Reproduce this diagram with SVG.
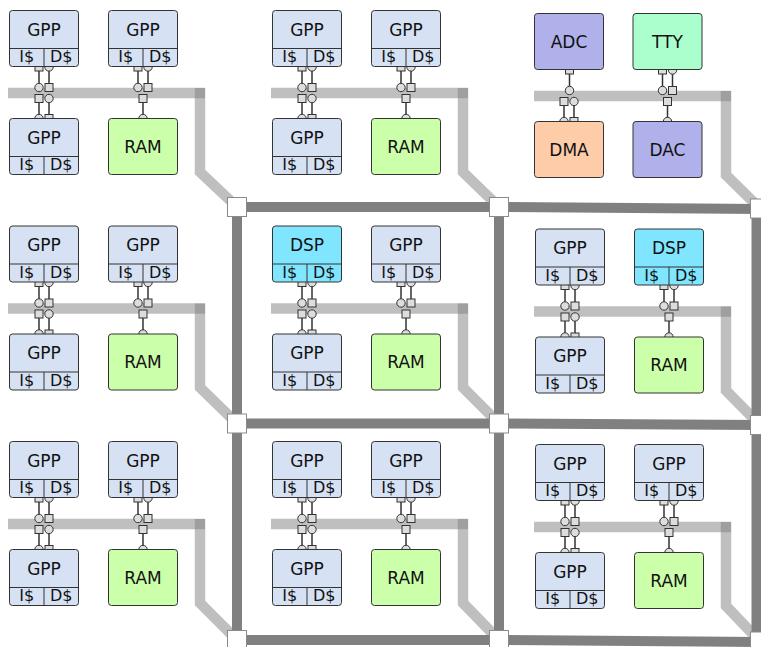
<svg xmlns="http://www.w3.org/2000/svg" xmlns:xlink="http://www.w3.org/1999/xlink" width="761" height="647" viewBox="0 0 761 647">
<style>
.box{stroke:#333;stroke-width:1}
.gpp{fill:#d6e1f3}
.dsp{fill:#80e5ff}
.ram{fill:#ccffaa}
.adc{fill:#b0b0ea}
.tty{fill:#aaffcc}
.dma{fill:#ffccaa}
.dv{stroke:#333;stroke-width:1}
text{font-family:"DejaVu Sans",sans-serif;font-size:17px;text-anchor:middle;fill:#111}
text.c{font-size:16px}
.bus{stroke:#808080;stroke-opacity:0.5;stroke-width:10.5;fill:none}
.mesh{stroke:#808080;stroke-width:10;fill:none}
.router{fill:#fff;stroke:#8a8a8a;stroke-width:1}
.w{stroke:#333;stroke-width:1.5}
.p{fill:#ddd;stroke:#333;stroke-width:1}
</style>
<defs>
<g id="portsStd">
<line class="w" x1="39" y1="67" x2="39" y2="87.5"/>
<line class="w" x1="49" y1="67" x2="49" y2="87.5"/>
<line class="w" x1="39" y1="98.5" x2="39" y2="118.5"/>
<line class="w" x1="49" y1="98.5" x2="49" y2="118.5"/>
<line class="w" x1="138" y1="67" x2="138" y2="87.5"/>
<line class="w" x1="148" y1="67" x2="148" y2="87.5"/>
<line class="w" x1="143" y1="98.5" x2="143" y2="118.5"/>
<rect class="p" x="35" y="63" width="8" height="8"/>
<rect class="p" x="45" y="83.5" width="8" height="8"/>
<rect class="p" x="35" y="94.5" width="8" height="8"/>
<rect class="p" x="45" y="114.5" width="8" height="8"/>
<rect class="p" x="134" y="63" width="8" height="8"/>
<rect class="p" x="144" y="83.5" width="8" height="8"/>
<rect class="p" x="139" y="94.5" width="8" height="8"/>
<circle class="p" cx="49" cy="67" r="4.2"/>
<circle class="p" cx="39" cy="87.5" r="4.2"/>
<circle class="p" cx="49" cy="98.5" r="4.2"/>
<circle class="p" cx="39" cy="118.5" r="4.2"/>
<circle class="p" cx="148" cy="67" r="4.2"/>
<circle class="p" cx="138" cy="87.5" r="4.2"/>
<circle class="p" cx="143" cy="118.5" r="4.2"/>
</g>
<g id="portsIO">
<line class="w" x1="43.5" y1="67" x2="43.5" y2="87.5"/>
<line class="w" x1="38" y1="98.5" x2="38" y2="118.5"/>
<line class="w" x1="48" y1="98.5" x2="48" y2="118.5"/>
<line class="w" x1="136.5" y1="67" x2="136.5" y2="87.5"/>
<line class="w" x1="146.5" y1="67" x2="146.5" y2="87.5"/>
<line class="w" x1="141.5" y1="98.5" x2="141.5" y2="118.5"/>
<rect class="p" x="39.5" y="63" width="8" height="8"/>
<rect class="p" x="34" y="94.5" width="8" height="8"/>
<rect class="p" x="44" y="114.5" width="8" height="8"/>
<rect class="p" x="132.5" y="63" width="8" height="8"/>
<rect class="p" x="142.5" y="83.5" width="8" height="8"/>
<rect class="p" x="137.5" y="94.5" width="8" height="8"/>
<circle class="p" cx="43.5" cy="87.5" r="4.2"/>
<circle class="p" cx="48" cy="98.5" r="4.2"/>
<circle class="p" cx="38" cy="118.5" r="4.2"/>
<circle class="p" cx="146.5" cy="67" r="4.2"/>
<circle class="p" cx="136.5" cy="87.5" r="4.2"/>
<circle class="p" cx="141.5" cy="118.5" r="4.2"/>
</g>
</defs>

<!-- mesh network -->
<g id="mesh">
<polyline class="mesh" points="237,207 499,207 762,209"/>
<polyline class="mesh" points="237,423.5 499,423.5 762,425"/>
<polyline class="mesh" points="237,640 499,640 762,642"/>
<line class="mesh" x1="237" y1="207" x2="237" y2="650"/>
<line class="mesh" x1="499" y1="207" x2="499" y2="650"/>
<line class="mesh" x1="756.5" y1="209" x2="756.5" y2="650"/>
</g>

<!-- buses and links to routers -->
<g id="buses">
<line class="bus" x1="8" y1="93" x2="205" y2="93"/>
<polyline class="bus" points="200,88 200,172 237,207"/>
<line class="bus" x1="271" y1="93" x2="468" y2="93"/>
<polyline class="bus" points="463,88 463,172 499,207"/>
<line class="bus" x1="534" y1="96" x2="731" y2="96"/>
<polyline class="bus" points="726,91 726,175 760,208.5"/>
<line class="bus" x1="8" y1="308.5" x2="205" y2="308.5"/>
<polyline class="bus" points="200,303.5 200,387.5 237,423.5"/>
<line class="bus" x1="271" y1="308.5" x2="468" y2="308.5"/>
<polyline class="bus" points="463,303.5 463,387.5 499,423.5"/>
<line class="bus" x1="534" y1="311.5" x2="731" y2="311.5"/>
<polyline class="bus" points="726,306.5 726,390.5 760,425"/>
<line class="bus" x1="8" y1="524" x2="205" y2="524"/>
<polyline class="bus" points="200,519 200,603 237,640"/>
<line class="bus" x1="271" y1="524" x2="468" y2="524"/>
<polyline class="bus" points="463,519 463,603 499,640"/>
<line class="bus" x1="534" y1="527" x2="731" y2="527"/>
<polyline class="bus" points="726,522 726,606 760,641.5"/>
</g>

<!-- routers -->
<g id="r00"><rect class="router" x="227.5" y="197.5" width="19" height="19"/></g>
<g id="r10"><rect class="router" x="489.5" y="197.5" width="19" height="19"/></g>
<g id="r20"><rect class="router" x="750.5" y="199" width="19" height="19"/></g>
<g id="r01"><rect class="router" x="227.5" y="414" width="19" height="19"/></g>
<g id="r11"><rect class="router" x="489.5" y="414" width="19" height="19"/></g>
<g id="r21"><rect class="router" x="750.5" y="415.5" width="19" height="19"/></g>
<g id="r02"><rect class="router" x="227.5" y="630.5" width="19" height="19"/></g>
<g id="r12"><rect class="router" x="489.5" y="630.5" width="19" height="19"/></g>
<g id="r22"><rect class="router" x="750.5" y="632" width="19" height="19"/></g>

<!-- connectors (port links) -->
<g id="connectors">
<use xlink:href="#portsStd" x="0" y="0"/>
<use xlink:href="#portsStd" x="263" y="0"/>
<use xlink:href="#portsIO" x="526" y="3"/>
<use xlink:href="#portsStd" x="0" y="215.5"/>
<use xlink:href="#portsStd" x="263" y="215.5"/>
<use xlink:href="#portsStd" x="526" y="218.5"/>
<use xlink:href="#portsStd" x="0" y="431"/>
<use xlink:href="#portsStd" x="263" y="431"/>
<use xlink:href="#portsStd" x="526" y="434"/>
</g>

<!-- tile 0,0 -->
<g transform="translate(0,0)">
<g id="t00-gpp1"><rect class="box gpp" x="9.5" y="10.5" width="69" height="56" rx="3"/><line class="dv" x1="9.5" y1="48.5" x2="78.5" y2="48.5"/><line class="dv" x1="44" y1="48.5" x2="44" y2="66.5"/><text x="44" y="35.5">GPP</text><text class="c" x="26.75" y="62">I$</text><text class="c" x="61.25" y="62">D$</text></g>
<g id="t00-gpp2"><rect class="box gpp" x="108.5" y="10.5" width="69" height="56" rx="3"/><line class="dv" x1="108.5" y1="48.5" x2="177.5" y2="48.5"/><line class="dv" x1="143" y1="48.5" x2="143" y2="66.5"/><text x="143" y="35.5">GPP</text><text class="c" x="125.75" y="62">I$</text><text class="c" x="160.25" y="62">D$</text></g>
<g id="t00-gpp3"><rect class="box gpp" x="9.5" y="118.5" width="69" height="56" rx="3"/><line class="dv" x1="9.5" y1="156.5" x2="78.5" y2="156.5"/><line class="dv" x1="44" y1="156.5" x2="44" y2="174.5"/><text x="44" y="143.5">GPP</text><text class="c" x="26.75" y="170">I$</text><text class="c" x="61.25" y="170">D$</text></g>
<g id="t00-ram"><rect class="box ram" x="108.5" y="118.5" width="69" height="56" rx="3"/><text x="143" y="152.5">RAM</text></g>
</g>

<!-- tile 1,0 -->
<g transform="translate(263,0)">
<g id="t10-gpp1"><rect class="box gpp" x="9.5" y="10.5" width="69" height="56" rx="3"/><line class="dv" x1="9.5" y1="48.5" x2="78.5" y2="48.5"/><line class="dv" x1="44" y1="48.5" x2="44" y2="66.5"/><text x="44" y="35.5">GPP</text><text class="c" x="26.75" y="62">I$</text><text class="c" x="61.25" y="62">D$</text></g>
<g id="t10-gpp2"><rect class="box gpp" x="108.5" y="10.5" width="69" height="56" rx="3"/><line class="dv" x1="108.5" y1="48.5" x2="177.5" y2="48.5"/><line class="dv" x1="143" y1="48.5" x2="143" y2="66.5"/><text x="143" y="35.5">GPP</text><text class="c" x="125.75" y="62">I$</text><text class="c" x="160.25" y="62">D$</text></g>
<g id="t10-gpp3"><rect class="box gpp" x="9.5" y="118.5" width="69" height="56" rx="3"/><line class="dv" x1="9.5" y1="156.5" x2="78.5" y2="156.5"/><line class="dv" x1="44" y1="156.5" x2="44" y2="174.5"/><text x="44" y="143.5">GPP</text><text class="c" x="26.75" y="170">I$</text><text class="c" x="61.25" y="170">D$</text></g>
<g id="t10-ram"><rect class="box ram" x="108.5" y="118.5" width="69" height="56" rx="3"/><text x="143" y="152.5">RAM</text></g>
</g>

<!-- tile 2,0 (I/O) -->
<g transform="translate(526,3)">
<g id="t20-adc"><rect class="box adc" x="8.5" y="10.5" width="69" height="56" rx="3"/><text x="43" y="44.5">ADC</text></g>
<g id="t20-tty"><rect class="box tty" x="107" y="10.5" width="69" height="56" rx="3"/><text x="141.5" y="44.5">TTY</text></g>
<g id="t20-dma"><rect class="box dma" x="8.5" y="118.5" width="69" height="56" rx="3"/><text x="43" y="152.5">DMA</text></g>
<g id="t20-dac"><rect class="box adc" x="107" y="118.5" width="69" height="56" rx="3"/><text x="141.5" y="152.5">DAC</text></g>
</g>

<!-- tile 0,1 -->
<g transform="translate(0,215.5)">
<g id="t01-gpp1"><rect class="box gpp" x="9.5" y="10.5" width="69" height="56" rx="3"/><line class="dv" x1="9.5" y1="48.5" x2="78.5" y2="48.5"/><line class="dv" x1="44" y1="48.5" x2="44" y2="66.5"/><text x="44" y="35.5">GPP</text><text class="c" x="26.75" y="62">I$</text><text class="c" x="61.25" y="62">D$</text></g>
<g id="t01-gpp2"><rect class="box gpp" x="108.5" y="10.5" width="69" height="56" rx="3"/><line class="dv" x1="108.5" y1="48.5" x2="177.5" y2="48.5"/><line class="dv" x1="143" y1="48.5" x2="143" y2="66.5"/><text x="143" y="35.5">GPP</text><text class="c" x="125.75" y="62">I$</text><text class="c" x="160.25" y="62">D$</text></g>
<g id="t01-gpp3"><rect class="box gpp" x="9.5" y="118.5" width="69" height="56" rx="3"/><line class="dv" x1="9.5" y1="156.5" x2="78.5" y2="156.5"/><line class="dv" x1="44" y1="156.5" x2="44" y2="174.5"/><text x="44" y="143.5">GPP</text><text class="c" x="26.75" y="170">I$</text><text class="c" x="61.25" y="170">D$</text></g>
<g id="t01-ram"><rect class="box ram" x="108.5" y="118.5" width="69" height="56" rx="3"/><text x="143" y="152.5">RAM</text></g>
</g>

<!-- tile 1,1 -->
<g transform="translate(263,215.5)">
<g id="t11-dsp"><rect class="box dsp" x="9.5" y="10.5" width="69" height="56" rx="3"/><line class="dv" x1="9.5" y1="48.5" x2="78.5" y2="48.5"/><line class="dv" x1="44" y1="48.5" x2="44" y2="66.5"/><text x="44" y="35.5">DSP</text><text class="c" x="26.75" y="62">I$</text><text class="c" x="61.25" y="62">D$</text></g>
<g id="t11-gpp2"><rect class="box gpp" x="108.5" y="10.5" width="69" height="56" rx="3"/><line class="dv" x1="108.5" y1="48.5" x2="177.5" y2="48.5"/><line class="dv" x1="143" y1="48.5" x2="143" y2="66.5"/><text x="143" y="35.5">GPP</text><text class="c" x="125.75" y="62">I$</text><text class="c" x="160.25" y="62">D$</text></g>
<g id="t11-gpp3"><rect class="box gpp" x="9.5" y="118.5" width="69" height="56" rx="3"/><line class="dv" x1="9.5" y1="156.5" x2="78.5" y2="156.5"/><line class="dv" x1="44" y1="156.5" x2="44" y2="174.5"/><text x="44" y="143.5">GPP</text><text class="c" x="26.75" y="170">I$</text><text class="c" x="61.25" y="170">D$</text></g>
<g id="t11-ram"><rect class="box ram" x="108.5" y="118.5" width="69" height="56" rx="3"/><text x="143" y="152.5">RAM</text></g>
</g>

<!-- tile 2,1 -->
<g transform="translate(526,218.5)">
<g id="t21-gpp1"><rect class="box gpp" x="9.5" y="10.5" width="69" height="56" rx="3"/><line class="dv" x1="9.5" y1="48.5" x2="78.5" y2="48.5"/><line class="dv" x1="44" y1="48.5" x2="44" y2="66.5"/><text x="44" y="35.5">GPP</text><text class="c" x="26.75" y="62">I$</text><text class="c" x="61.25" y="62">D$</text></g>
<g id="t21-dsp"><rect class="box dsp" x="108.5" y="10.5" width="69" height="56" rx="3"/><line class="dv" x1="108.5" y1="48.5" x2="177.5" y2="48.5"/><line class="dv" x1="143" y1="48.5" x2="143" y2="66.5"/><text x="143" y="35.5">DSP</text><text class="c" x="125.75" y="62">I$</text><text class="c" x="160.25" y="62">D$</text></g>
<g id="t21-gpp3"><rect class="box gpp" x="9.5" y="118.5" width="69" height="56" rx="3"/><line class="dv" x1="9.5" y1="156.5" x2="78.5" y2="156.5"/><line class="dv" x1="44" y1="156.5" x2="44" y2="174.5"/><text x="44" y="143.5">GPP</text><text class="c" x="26.75" y="170">I$</text><text class="c" x="61.25" y="170">D$</text></g>
<g id="t21-ram"><rect class="box ram" x="108.5" y="118.5" width="69" height="56" rx="3"/><text x="143" y="152.5">RAM</text></g>
</g>

<!-- tile 0,2 -->
<g transform="translate(0,431)">
<g id="t02-gpp1"><rect class="box gpp" x="9.5" y="10.5" width="69" height="56" rx="3"/><line class="dv" x1="9.5" y1="48.5" x2="78.5" y2="48.5"/><line class="dv" x1="44" y1="48.5" x2="44" y2="66.5"/><text x="44" y="35.5">GPP</text><text class="c" x="26.75" y="62">I$</text><text class="c" x="61.25" y="62">D$</text></g>
<g id="t02-gpp2"><rect class="box gpp" x="108.5" y="10.5" width="69" height="56" rx="3"/><line class="dv" x1="108.5" y1="48.5" x2="177.5" y2="48.5"/><line class="dv" x1="143" y1="48.5" x2="143" y2="66.5"/><text x="143" y="35.5">GPP</text><text class="c" x="125.75" y="62">I$</text><text class="c" x="160.25" y="62">D$</text></g>
<g id="t02-gpp3"><rect class="box gpp" x="9.5" y="118.5" width="69" height="56" rx="3"/><line class="dv" x1="9.5" y1="156.5" x2="78.5" y2="156.5"/><line class="dv" x1="44" y1="156.5" x2="44" y2="174.5"/><text x="44" y="143.5">GPP</text><text class="c" x="26.75" y="170">I$</text><text class="c" x="61.25" y="170">D$</text></g>
<g id="t02-ram"><rect class="box ram" x="108.5" y="118.5" width="69" height="56" rx="3"/><text x="143" y="152.5">RAM</text></g>
</g>

<!-- tile 1,2 -->
<g transform="translate(263,431)">
<g id="t12-gpp1"><rect class="box gpp" x="9.5" y="10.5" width="69" height="56" rx="3"/><line class="dv" x1="9.5" y1="48.5" x2="78.5" y2="48.5"/><line class="dv" x1="44" y1="48.5" x2="44" y2="66.5"/><text x="44" y="35.5">GPP</text><text class="c" x="26.75" y="62">I$</text><text class="c" x="61.25" y="62">D$</text></g>
<g id="t12-gpp2"><rect class="box gpp" x="108.5" y="10.5" width="69" height="56" rx="3"/><line class="dv" x1="108.5" y1="48.5" x2="177.5" y2="48.5"/><line class="dv" x1="143" y1="48.5" x2="143" y2="66.5"/><text x="143" y="35.5">GPP</text><text class="c" x="125.75" y="62">I$</text><text class="c" x="160.25" y="62">D$</text></g>
<g id="t12-gpp3"><rect class="box gpp" x="9.5" y="118.5" width="69" height="56" rx="3"/><line class="dv" x1="9.5" y1="156.5" x2="78.5" y2="156.5"/><line class="dv" x1="44" y1="156.5" x2="44" y2="174.5"/><text x="44" y="143.5">GPP</text><text class="c" x="26.75" y="170">I$</text><text class="c" x="61.25" y="170">D$</text></g>
<g id="t12-ram"><rect class="box ram" x="108.5" y="118.5" width="69" height="56" rx="3"/><text x="143" y="152.5">RAM</text></g>
</g>

<!-- tile 2,2 -->
<g transform="translate(526,434)">
<g id="t22-gpp1"><rect class="box gpp" x="9.5" y="10.5" width="69" height="56" rx="3"/><line class="dv" x1="9.5" y1="48.5" x2="78.5" y2="48.5"/><line class="dv" x1="44" y1="48.5" x2="44" y2="66.5"/><text x="44" y="35.5">GPP</text><text class="c" x="26.75" y="62">I$</text><text class="c" x="61.25" y="62">D$</text></g>
<g id="t22-gpp2"><rect class="box gpp" x="108.5" y="10.5" width="69" height="56" rx="3"/><line class="dv" x1="108.5" y1="48.5" x2="177.5" y2="48.5"/><line class="dv" x1="143" y1="48.5" x2="143" y2="66.5"/><text x="143" y="35.5">GPP</text><text class="c" x="125.75" y="62">I$</text><text class="c" x="160.25" y="62">D$</text></g>
<g id="t22-gpp3"><rect class="box gpp" x="9.5" y="118.5" width="69" height="56" rx="3"/><line class="dv" x1="9.5" y1="156.5" x2="78.5" y2="156.5"/><line class="dv" x1="44" y1="156.5" x2="44" y2="174.5"/><text x="44" y="143.5">GPP</text><text class="c" x="26.75" y="170">I$</text><text class="c" x="61.25" y="170">D$</text></g>
<g id="t22-ram"><rect class="box ram" x="108.5" y="118.5" width="69" height="56" rx="3"/><text x="143" y="152.5">RAM</text></g>
</g>
</svg>
